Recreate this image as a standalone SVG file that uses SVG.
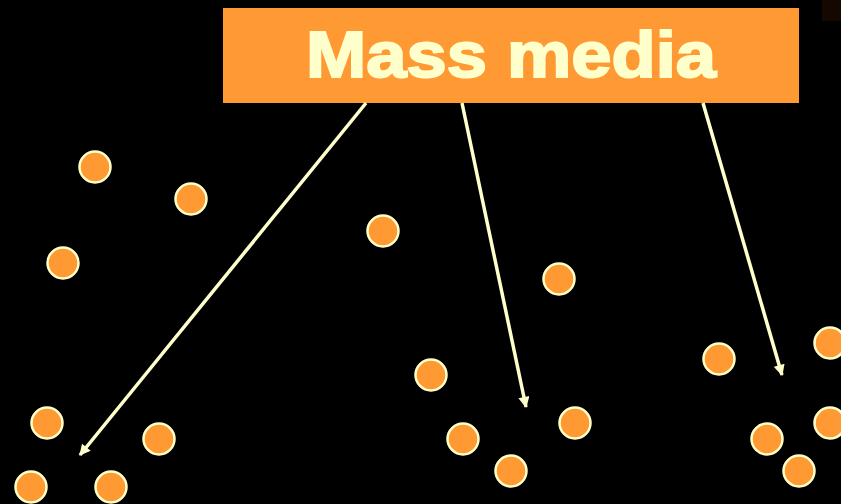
<svg xmlns="http://www.w3.org/2000/svg" width="841" height="504" viewBox="0 0 841 504">
<style>
.dot{fill:#FF9933;stroke:#FFFFCC;stroke-width:2.5}
.con{stroke:#FFFFCC;stroke-width:3.5;fill:none}
.title{font-family:"Liberation Sans",Arial,sans-serif;font-weight:bold;font-size:64px;fill:#FFFFCC;stroke:#FFFFCC;stroke-width:2}
</style>
<defs>
<marker id="ah" viewBox="0 0 10 10" refX="9" refY="5" markerWidth="3.8" markerHeight="3.2" orient="auto" markerUnits="strokeWidth">
<path d="M0,0 L10,5 L0,10 Z" fill="#FFFFCC"/>
</marker>
</defs>
<rect width="841" height="504" fill="#000"/>
<rect x="822" y="0" width="19" height="21" fill="#140800"/>
<g id="mass-media">
<rect x="223" y="8" width="576" height="95" fill="#FF9933"/>
<text class="title" x="511" y="77" text-anchor="middle" textLength="410" lengthAdjust="spacingAndGlyphs">Mass media</text>
</g>
<g id="connectors">
<line class="con" x1="366" y1="103" x2="80" y2="455" marker-end="url(#ah)"/>
<line class="con" x1="462" y1="103" x2="526" y2="407" marker-end="url(#ah)"/>
<line class="con" x1="703" y1="103" x2="782" y2="375" marker-end="url(#ah)"/>
</g>
<g id="n1"><circle class="dot" cx="95" cy="167" r="15.5"/></g>
<g id="n2"><circle class="dot" cx="191" cy="199" r="15.5"/></g>
<g id="n3"><circle class="dot" cx="63" cy="263" r="15.5"/></g>
<g id="n4"><circle class="dot" cx="383" cy="231" r="15.5"/></g>
<g id="n5"><circle class="dot" cx="559" cy="279" r="15.5"/></g>
<g id="n6"><circle class="dot" cx="431" cy="375" r="15.5"/></g>
<g id="n7"><circle class="dot" cx="719" cy="359" r="15.5"/></g>
<g id="n8"><circle class="dot" cx="830" cy="343" r="15.5"/></g>
<g id="n9"><circle class="dot" cx="47" cy="423" r="15.5"/></g>
<g id="n10"><circle class="dot" cx="159" cy="439" r="15.5"/></g>
<g id="n11"><circle class="dot" cx="31" cy="487" r="15.5"/></g>
<g id="n12"><circle class="dot" cx="111" cy="487" r="15.5"/></g>
<g id="n13"><circle class="dot" cx="463" cy="439" r="15.5"/></g>
<g id="n14"><circle class="dot" cx="575" cy="423" r="15.5"/></g>
<g id="n15"><circle class="dot" cx="511" cy="471" r="15.5"/></g>
<g id="n16"><circle class="dot" cx="767" cy="439" r="15.5"/></g>
<g id="n17"><circle class="dot" cx="830" cy="423" r="15.5"/></g>
<g id="n18"><circle class="dot" cx="799" cy="471" r="15.5"/></g>
</svg>
